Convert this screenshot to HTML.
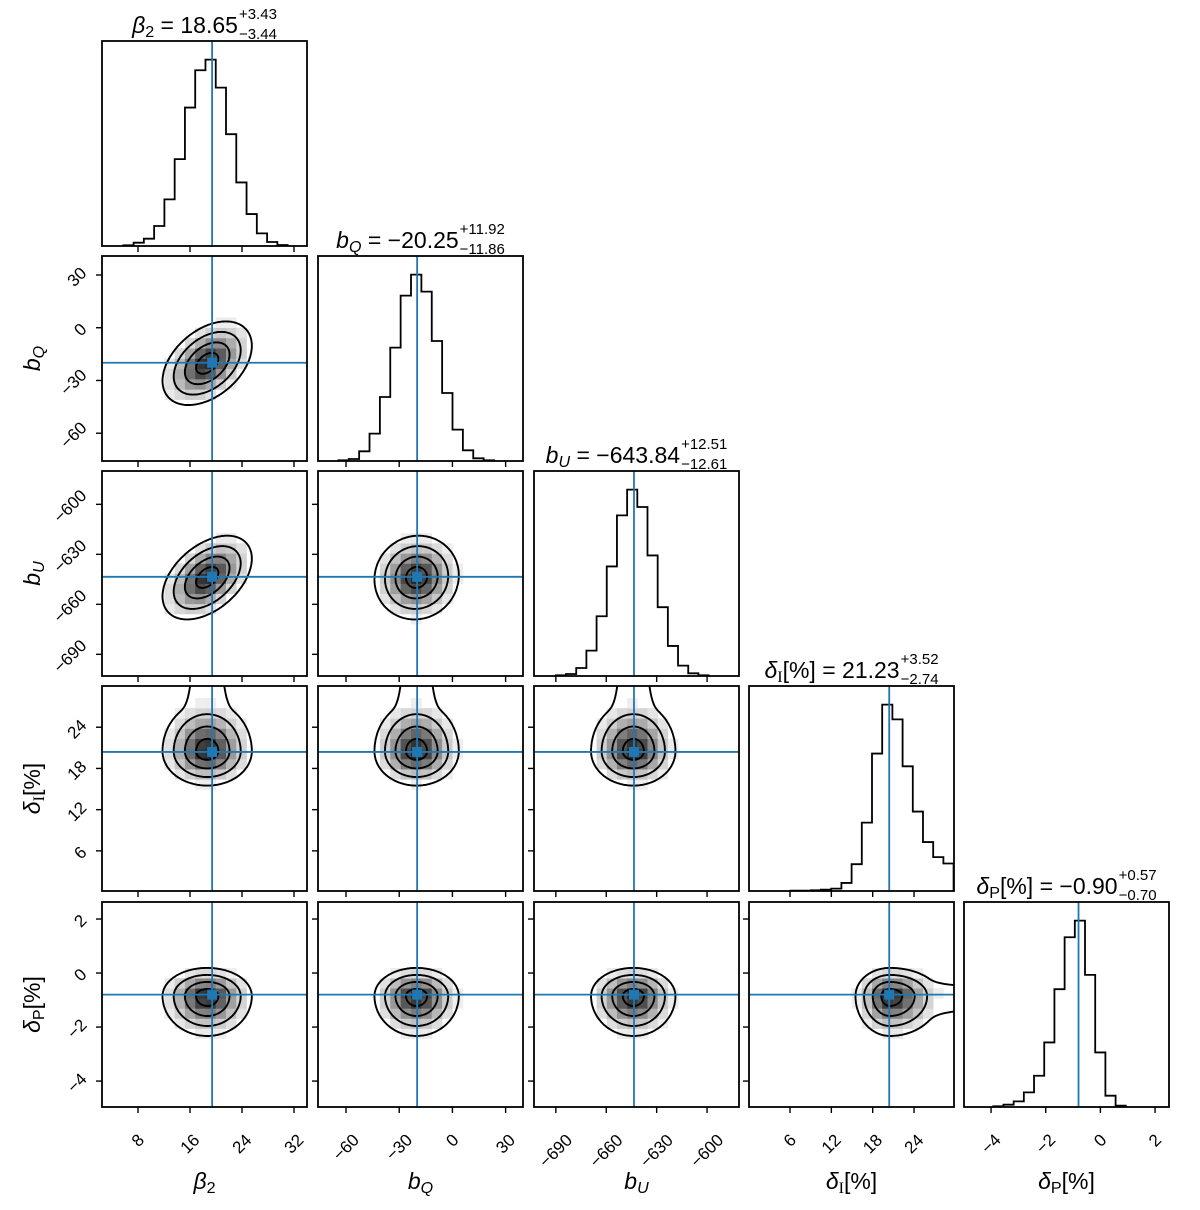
<!DOCTYPE html>
<html><head><meta charset="utf-8"><style>
html,body{margin:0;padding:0;background:#fff;}
svg{display:block;font-family:"Liberation Sans","DejaVu Sans",sans-serif;}
</style></head><body>
<svg id="fig" width="1200" height="1210" viewBox="0 0 1200 1210" xmlns="http://www.w3.org/2000/svg"><defs id="defs"></defs></svg>
<script>
// ---- data ----
const paramKeys = ['beta2','bQ','bU','deltaI','deltaP'];
const medians = [18.65, -20.25, -643.84, 21.23, -0.90];
const errPlus = ['3.43','11.92','12.51','3.52','0.57'];
const errMinus = ['3.44','11.86','12.61','2.74','0.70'];
const medianText = ['18.65','\u221220.25','\u2212643.84','21.23','\u22120.90'];
const truths = [19.4, -19.9, -643.5, 20.4, -0.8];
const xLo = [2.46, -75.8, -703, 0.05, -4.99];
const xHi = [34, 39.8, -581, 29.8, 2.51];
const yLo = [2.46, -75.8, -703, 0.16, -4.96];
const yHi = [34, 40.8, -580, 30, 2.63];
const tickVals = [[8,16,24,32],[-60,-30,0,30],[-690,-660,-630,-600],[6,12,18,24],[-4,-2,0,2]];
const histStart = [5.74, -64.3, -690, 6.06, -3.92];
const histStep = [1.58, 5.85, 6.06, 1.48, 0.373];
const histBeta2 = [2,10,22,60,140,261,416,528,560,476,336,191,96,38,12,3];
const histBQ = [2,6,29,82,192,340,496,559,508,360,204,94,32,8,2];
const histBU = [2,6,24,76,179,328,481,558,506,361,206,90,31,8,2];
const histDeltaI = [1,1,2,4,7,24,80,204,410,556,512,372,237,146,101,82];
const histDeltaP = [2,7,17,44,94,194,354,510,560,397,164,34,4];
const hists = [histBeta2, histBQ, histBU, histDeltaI, histDeltaP];
const modeCenters = [18.65, -20.25, -643.84, 20.5, -0.85];
const sigMinus = [3.44, 11.86, 12.61, 2.5, 0.74];
const sigPlus = [3.43, 11.92, 12.51, 3.6, 0.52];
const corrBeta2 = [1, 0.42, 0.45, 0, 0];
const corrBQ = [0.42, 1, 0.05, 0, 0];
const corrBU = [0.45, 0.05, 1, 0, 0];
const corrDeltaI = [0, 0, 0, 1, 0];
const corrDeltaP = [0, 0, 0, 0, 1];
const corr = [corrBeta2, corrBQ, corrBU, corrDeltaI, corrDeltaP];
const tailIndex = 3; // deltaI has upper tail
const contourLevels = [0.5, 1, 1.5, 2];

// ---- layout ----
const colLeft = [102, 318, 534, 749, 964];
const rowTop = [41, 256, 471, 686, 902];
const W = 205;
const BLUE = '#1f77b4';
const NS = 'http://www.w3.org/2000/svg';
const svg = document.getElementById('fig');
const defs = document.getElementById('defs');

function mk(tag, attrs, parent){
  const e = document.createElementNS(NS, tag);
  for (const k in attrs) e.setAttribute(k, attrs[k]);
  (parent||svg).appendChild(e);
  return e;
}
function sx(j, v){ return colLeft[j] + (v - xLo[j]) / (xHi[j] - xLo[j]) * W; }
function sy(i, v){ return rowTop[i] + W - (v - yLo[i]) / (yHi[i] - yLo[i]) * W; }
function fmt(v){ return (v < 0 ? '\u2212' : '') + Math.abs(v); }
function sg(p, z){ return z >= 0 ? sigPlus[p] * z : sigMinus[p] * z; }
function tailAdd(p, frac){ return p === tailIndex && frac > 0 ? 30 * Math.pow(frac, 30) : 0; }

for (let i = 0; i < 5; i++) {
  for (let j = 0; j <= i; j++) {
    const L = colLeft[j], T = rowTop[i];
    const cp = mk('clipPath', {id: 'c' + i + j}, defs);
    mk('rect', {x: L, y: T, width: W, height: W}, cp);
    const g = mk('g', {'clip-path': 'url(#c' + i + j + ')'});
    
    
    if (i === j) {
      const c = hists[j];
      const mx = Math.max(...c) * 1.1;
      const bot = T + W;
      let d = '';
      c.forEach((v, k) => {
        const x0 = sx(j, histStart[j] + k * histStep[j]);
        const x1 = sx(j, histStart[j] + (k + 1) * histStep[j]);
        const y = bot - v / mx * W;
        d += (k === 0 ? 'M' + x0 + ',' + bot + 'L' + x0 + ',' + y : 'L' + x0 + ',' + y) + 'L' + x1 + ',' + y;
        if (k === c.length - 1) d += 'L' + x1 + ',' + bot;
      });
      const hp = mk('path', {d: d, fill: 'none', stroke: '#000', 'stroke-width': 1.8}, g);
      
      
      const tl = mk('line', {x1: sx(j, truths[j]), x2: sx(j, truths[j]), y1: T, y2: T + W, stroke: BLUE, 'stroke-width': 1.8}, g);
      
      
    } else {
      const rho = corr[i][j];
      for (let a = -12; a < 30; a++) {
        for (let b = -12; b < 30; b++) {
          const xv0 = histStart[j] + a * histStep[j], xv1 = xv0 + histStep[j];
          const yv0 = histStart[i] + b * histStep[i], yv1 = yv0 + histStep[i];
          const xm = (xv0 + xv1) / 2, ym = (yv0 + yv1) / 2;
          const du = xm - modeCenters[j], dv = ym - modeCenters[i];
          const u = du / (du >= 0 ? sigPlus[j] : sigMinus[j]);
          const v = dv / (dv >= 0 ? sigPlus[i] : sigMinus[i]);
          const m2 = (u * u - 2 * rho * u * v + v * v) / (1 - rho * rho);
          const dens = Math.exp(-0.5 * m2);
          if (dens < 0.14) continue;
          const gv = Math.round(255 * (1 - 0.85 * Math.pow(dens, 1.3)));
          const x0 = sx(j, xv0), x1 = sx(j, xv1), y0 = sy(i, yv1), y1 = sy(i, yv0);
          const r = mk('rect', {x: x0, y: y0, width: x1 - x0 + 0.3, height: y1 - y0 + 0.3, fill: 'rgb(' + gv + ',' + gv + ',' + gv + ')'}, g);
          
          
        }
      }
      contourLevels.forEach(k => {
        let d = '';
        const N = 240;
        for (let s = 0; s <= N; s++) {
          const t = s / N * 2 * Math.PI;
          const u = k * Math.cos(t);
          const v = k * (rho * Math.cos(t) + Math.sqrt(1 - rho * rho) * Math.sin(t));
          let xv = modeCenters[j] + sg(j, u);
          let yv = modeCenters[i] + sg(i, v);
          if (k === 2) { xv += tailAdd(j, u / k); yv += tailAdd(i, v / k); }
          d += (s === 0 ? 'M' : 'L') + sx(j, xv).toFixed(1) + ',' + sy(i, yv).toFixed(1);
        }
        const cpth = mk('path', {d: d + 'Z', fill: 'none', stroke: '#000', 'stroke-width': 1.9}, g);
        
        
      });
      const vx = sx(j, truths[j]), hy = sy(i, truths[i]);
      const l1 = mk('line', {x1: vx, x2: vx, y1: T, y2: T + W, stroke: BLUE, 'stroke-width': 1.8}, g);
      
      
      const l2 = mk('line', {x1: L, x2: L + W, y1: hy, y2: hy, stroke: BLUE, 'stroke-width': 1.8}, g);
      
      
      const mkr = mk('rect', {x: vx - 5, y: hy - 5, width: 10, height: 10, fill: BLUE}, g);
      
      
    }
    const fr = mk('rect', {x: L, y: T, width: W, height: W, fill: 'none', stroke: '#000', 'stroke-width': 1.8});
    
    
    tickVals[j].forEach(tv => {
      const x = sx(j, tv);
      if (x < L || x > L + W) return;
      const tk = mk('line', {x1: x, x2: x, y1: T + W, y2: T + W + 6, stroke: '#000', 'stroke-width': 1.4});
      
      
      if (i === 4) {
        const lab = fmt(tv);
        const len = lab.length * 9.8;
        const cy = T + W + 24 + (len + 17) * 0.354;
        const tx = mk('text', {x: x, y: cy, 'text-anchor': 'middle', 'dominant-baseline': 'central', 'font-size': 17, transform: 'rotate(-45 ' + x + ' ' + cy + ')'});
        tx.textContent = lab;
        
        
      }
    });
    if (i !== j) {
      tickVals[i].forEach(tv => {
        const y = sy(i, tv);
        if (y < T || y > T + W) return;
        const tk = mk('line', {x1: L - 6, x2: L, y1: y, y2: y, stroke: '#000', 'stroke-width': 1.4});
        
        
        if (j === 0) {
          const lab = fmt(tv);
          const len = lab.length * 9.8;
          const cx = L - 12 - (len + 17) * 0.354;
          const tx = mk('text', {x: cx, y: y + 2, 'text-anchor': 'middle', 'dominant-baseline': 'central', 'font-size': 17, transform: 'rotate(-45 ' + cx + ' ' + (y + 2) + ')'});
          tx.textContent = lab;
          
          
        }
      });
    }
  }
}

function sym(k){
  return [
    '<tspan font-style="italic">β</tspan><tspan font-size="70%" baseline-shift="-25%">2</tspan>',
    '<tspan font-style="italic">b</tspan><tspan font-size="70%" font-style="italic" baseline-shift="-25%">Q</tspan>',
    '<tspan font-style="italic">b</tspan><tspan font-size="70%" font-style="italic" baseline-shift="-25%">U</tspan>',
    '<tspan font-style="italic">δ</tspan><tspan font-size="70%" font-family="Liberation Serif" baseline-shift="-25%">I</tspan><tspan>[%]</tspan>',
    '<tspan font-style="italic">δ</tspan><tspan font-size="70%" baseline-shift="-25%">P</tspan><tspan>[%]</tspan>'
  ][k];
}
for (let k = 0; k < 5; k++) {
  const cx = colLeft[k] + W / 2;
  const xl = mk('text', {x: cx, y: 1189, 'text-anchor': 'middle', 'font-size': 23});
  xl.innerHTML = sym(k);
  
  
  if (k > 0) {
    const cy = rowTop[k] + W / 2;
    const yl = mk('text', {x: 40, y: cy, 'text-anchor': 'middle', 'font-size': 23, transform: 'rotate(-90 40 ' + cy + ')'});
    yl.innerHTML = sym(k);
    
    
  }
  const T = rowTop[k];
  const tg = mk('g', {});
  
  
  const mt = mk('text', {x: 0, y: T - 8, 'font-size': 23}, tg);
  mt.innerHTML = sym(k) + '<tspan> = ' + medianText[k] + '</tspan>';
  const w0 = mt.getComputedTextLength();
  const sp = mk('text', {x: w0 + 1, y: T - 22, 'font-size': 15}, tg);
  sp.textContent = '+' + errPlus[k];
  const sb = mk('text', {x: w0 + 1, y: T - 2, 'font-size': 15}, tg);
  sb.textContent = '\u2212' + errMinus[k];
  const tw = w0 + 1 + Math.max(sp.getComputedTextLength(), sb.getComputedTextLength());
  tg.setAttribute('transform', 'translate(' + (colLeft[k] + W / 2 - tw / 2) + ',0)');
}
</script>
</body></html>
